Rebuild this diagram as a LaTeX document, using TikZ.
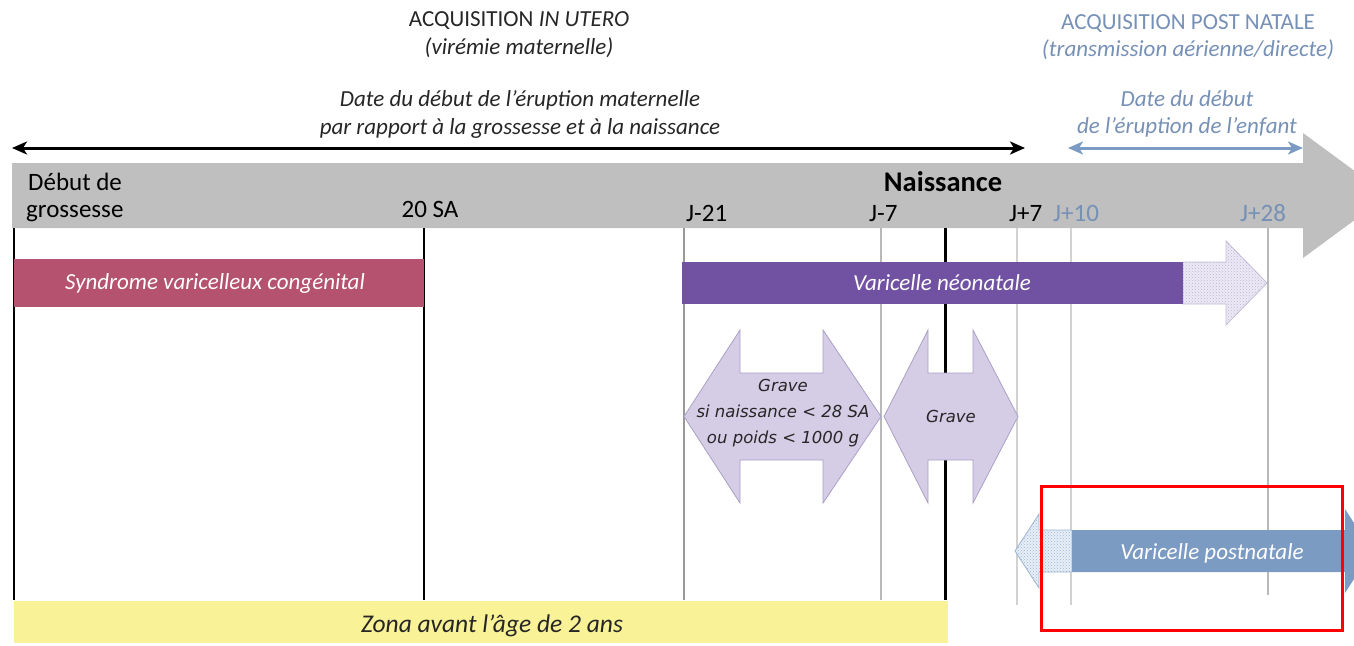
\documentclass[tikz,border=0pt]{standalone}
\usepackage{fontspec}
\setmainfont{Carlito}
\newfontfamily\dejavu{DejaVu Sans}
\usetikzlibrary{patterns,arrows.meta}
\definecolor{bandgray}{RGB}{191,191,191}
\definecolor{pinkbar}{RGB}{181,82,112}
\definecolor{purplebar}{RGB}{113,81,161}
\definecolor{lav}{RGB}{213,204,229}
\definecolor{lavedge}{RGB}{170,160,198}
\definecolor{lavlight}{RGB}{238,234,245}
\definecolor{lavdots}{RGB}{190,180,215}
\definecolor{bluebar}{RGB}{124,155,195}
\definecolor{bluelight}{RGB}{232,239,247}
\definecolor{bluedots}{RGB}{155,180,212}
\definecolor{bluetxt}{RGB}{118,144,182}
\definecolor{yelbar}{RGB}{250,242,150}
\definecolor{txtdark}{RGB}{38,38,38}
\definecolor{gridgray}{RGB}{185,185,185}
\tikzset{
  titletxt/.style={font=\fontsize{23}{27}\selectfont, text=txtdark, anchor=base, inner sep=0pt},
  bluetitle/.style={font=\fontsize{23}{27}\selectfont, text=bluetxt, anchor=base, inner sep=0pt},
  bandtxt/.style={font=\fontsize{25}{29}\selectfont, text=black, anchor=base, inner sep=0pt},
  bandblue/.style={font=\fontsize{25}{29}\selectfont, text=bluetxt, anchor=base, inner sep=0pt},
  bartxt/.style={font=\fontsize{23}{27}\selectfont\itshape, text=white, anchor=base, inner sep=0pt},
  gravetxt/.style={font=\dejavu\fontsize{16.5}{20}\selectfont\itshape, text=txtdark, anchor=base, inner sep=0pt},
  gridline/.style={draw=gridgray, line width=1.2pt},
  blackline/.style={draw=black, line width=1.2pt},
  gravearrow/.style={fill=lav, draw=lavedge, line width=0.8pt},
}
\begin{document}
\begin{tikzpicture}[x=1pt,y=-1pt]
\useasboundingbox (0,0) rectangle (1354,645);
\clip (0,0) rectangle (1354,645);

% big grey timeline arrow
\fill[bandgray] (12,163) -- (1303,163) -- (1303,133) -- (1388,195.5) -- (1303,258) -- (1303,228) -- (12,228) -- cycle;

% top double arrows
\coordinate (ml) at (12,148);
\coordinate (mr) at (1025,148);
\coordinate (el) at (1068,148);
\coordinate (er) at (1303,148);
\draw[line width=3pt, {Stealth[length=15pt,width=13pt,inset=4pt]}-{Stealth[length=15pt,width=13pt,inset=4pt]}] (ml) -- (mr);
\draw[bluebar, line width=3pt, {Stealth[length=15pt,width=13pt,inset=4pt]}-{Stealth[length=15pt,width=13pt,inset=4pt]}] (el) -- (er);

% vertical reference lines
\draw[blackline] (14,228) -- (14,600);
\draw[blackline] (424,228) -- (424,600);
\draw[gridline, draw=gray!80] (684,228) -- (684,600);
\draw[gridline] (881,228) -- (881,600);
\draw[black, line width=3pt] (945,228) -- (945,600);
\draw[gridline, draw=gray!35] (1017,228) -- (1017,605);
\draw[gridline, draw=gray!35] (1071,228) -- (1071,605);
\draw[gridline] (1268,228) -- (1268,595);

% titles
\node[titletxt] (t1) at (519,27) {ACQUISITION \textit{IN UTERO}};
\node[titletxt, font=\fontsize{23}{27}\selectfont\itshape] (t2) at (519,54) {(virémie maternelle)};
\node[titletxt, font=\fontsize{23}{27}\selectfont\itshape] (t3) at (520,106) {Date du début de l’éruption maternelle};
\node[titletxt, font=\fontsize{23}{27}\selectfont\itshape] (t4) at (520,134) {par rapport à la grossesse et à la naissance};
\node[bluetitle] (p1) at (1188,29) {ACQUISITION POST NATALE};
\node[bluetitle, font=\fontsize{23}{27}\selectfont\itshape] (p2) at (1188,56) {(transmission aérienne/directe)};
\node[bluetitle, font=\fontsize{23}{27}\selectfont\itshape] (p3) at (1187,106) {Date du début};
\node[bluetitle, font=\fontsize{23}{27}\selectfont\itshape] (p4) at (1187,133) {de l’éruption de l’enfant};

% band labels
\node[bandtxt, anchor=base west] (b1) at (28,190) {Début de};
\node[bandtxt, anchor=base west] (b2) at (26,217) {grossesse};
\node[bandtxt] (b3) at (430,217) {20 SA};
\node[bandtxt, font=\fontsize{28.5}{32}\selectfont\bfseries] (b4) at (943,191) {Naissance};
\node[bandtxt, anchor=base west] (b5) at (686,221) {J-21};
\node[bandtxt, anchor=base west] (b6) at (869,221) {J-7};
\node[bandtxt, anchor=base west] (b7) at (1009,221) {J+7};
\node[bandblue, anchor=base west] (b8) at (1053,221) {J+10};
\node[bandblue, anchor=base west] (b9) at (1240,221) {J+28};

% congenital syndrome bar
\fill[pinkbar] (14,259) rectangle (424,307);
\node[bartxt] (s1) at (215,289) {Syndrome varicelleux congénital};

% neonatal varicella bar with hatched extension
\path[fill=lavlight, draw=lavedge!70, line width=0.8pt] (1183,262) -- (1226,262) -- (1226,241) -- (1267,283) -- (1226,325) -- (1226,304) -- (1183,304) -- cycle;
\path[pattern=crosshatch dots, pattern color=lavdots] (1183,262) -- (1226,262) -- (1226,241) -- (1267,283) -- (1226,325) -- (1226,304) -- (1183,304) -- cycle;
\fill[purplebar] (682,262) rectangle (1183,304);
\node[bartxt] (s2) at (942,290) {Varicelle néonatale};

% severe double arrows
\path[gravearrow] (684,416.5) -- (740,330) -- (740,373) -- (823,373) -- (823,330) -- (881,416.5) -- (823,503) -- (823,460) -- (740,460) -- (740,503) -- cycle;
\node[gravetxt] (g1) at (783,391) {Grave};
\node[gravetxt] (g2) at (783,417) {si naissance < 28 SA};
\node[gravetxt] (g3) at (783,443) {ou poids < 1000 g};
\path[gravearrow] (884,416.5) -- (928,330) -- (928,373) -- (973,373) -- (973,330) -- (1018,416.5) -- (973,503) -- (973,460) -- (928,460) -- (928,503) -- cycle;
\node[gravetxt] (g4) at (951,422) {Grave};

% postnatal varicella bar
\path[fill=bluelight, draw=bluedots, line width=0.8pt] (1015,551) -- (1039,514) -- (1039,530) -- (1072,530) -- (1072,572) -- (1039,572) -- (1039,588) -- cycle;
\path[pattern=crosshatch dots, pattern color=bluedots] (1015,551) -- (1039,514) -- (1039,530) -- (1072,530) -- (1072,572) -- (1039,572) -- (1039,588) -- cycle;
\fill[bluebar] (1072,530) -- (1345,530) -- (1345,509) -- (1372,551) -- (1345,593) -- (1345,572) -- (1072,572) -- cycle;
\node[bartxt] (s3) at (1212,559) {Varicelle postnatale};

% zona bar
\fill[yelbar] (14,601) rectangle (948,643);
\node[bartxt, text=txtdark, font=\fontsize{25.5}{29}\selectfont\itshape] (s4) at (492,632) {Zona avant l’âge de 2 ans};

% red highlight frame
\draw[red, line width=3pt] (1041,486) rectangle (1342,630);
\end{tikzpicture}
\end{document}
